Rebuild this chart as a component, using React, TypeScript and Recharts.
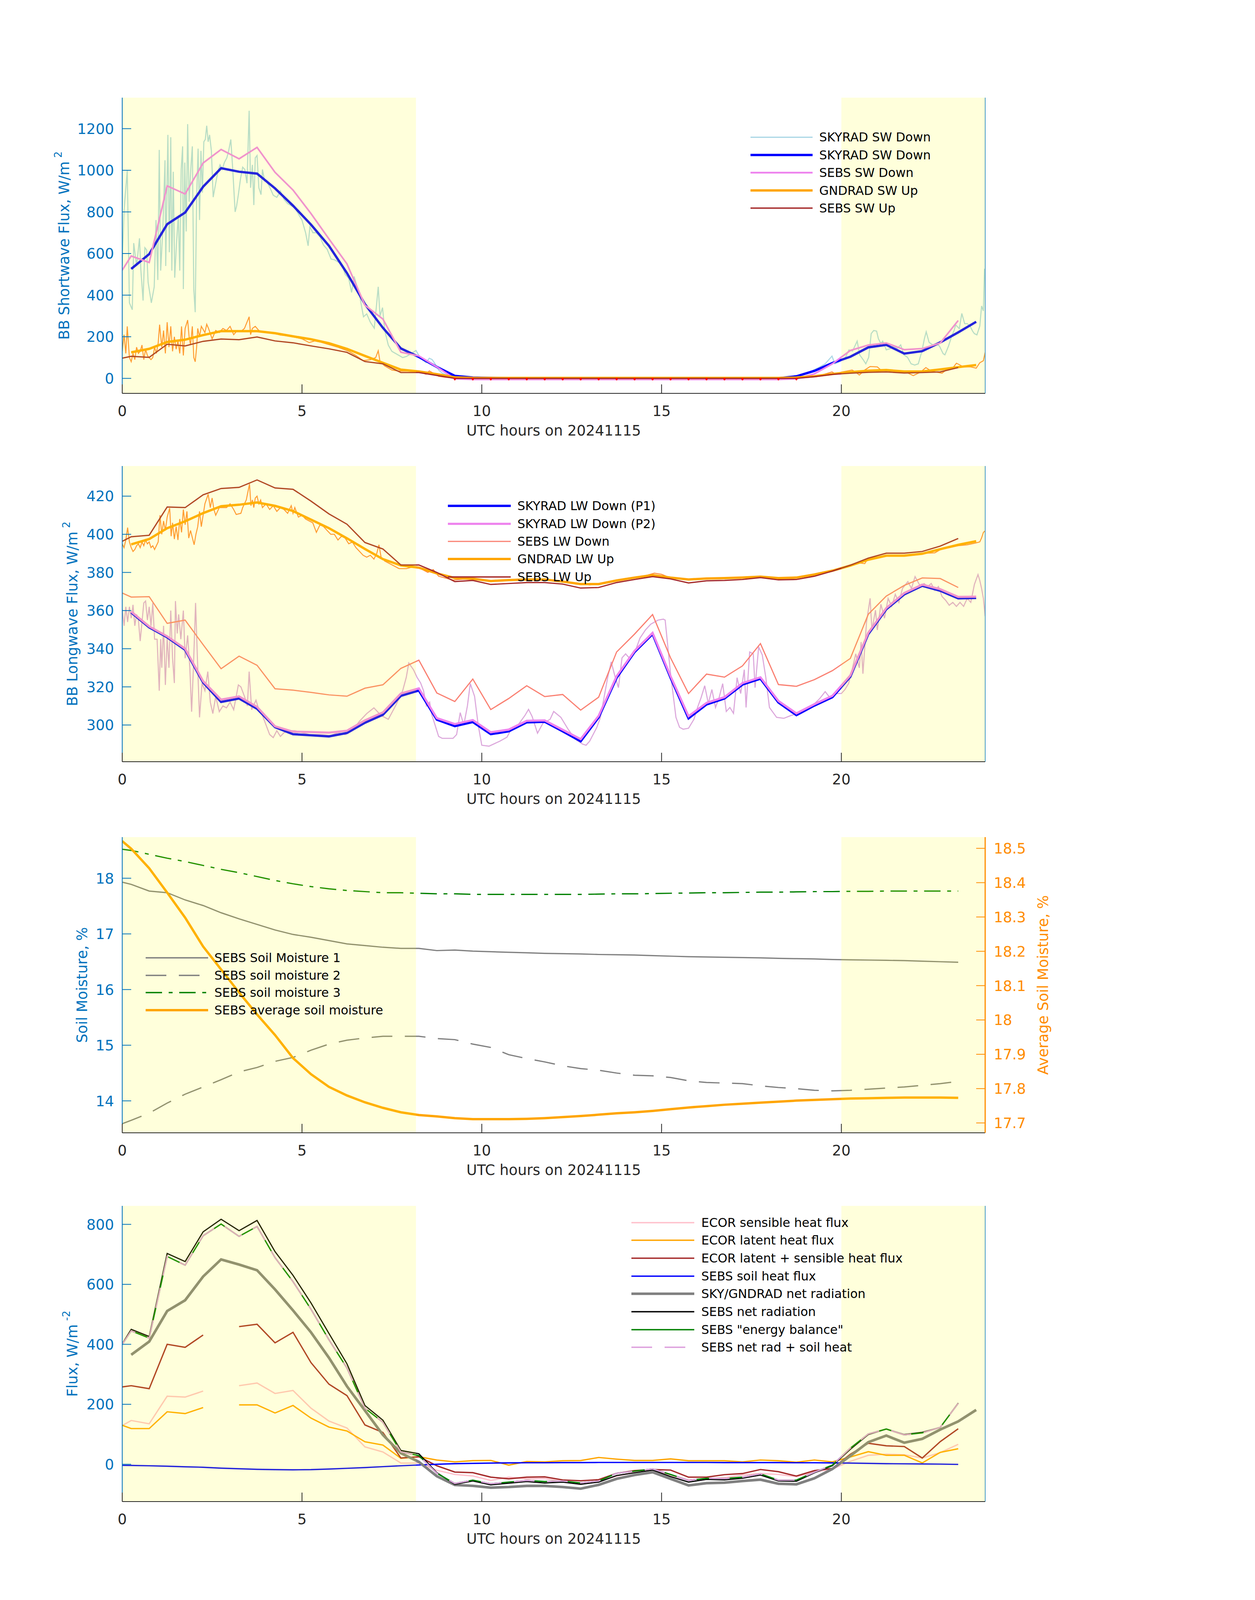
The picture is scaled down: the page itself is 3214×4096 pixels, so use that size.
import React from "react";
import { LineChart, Line, XAxis, YAxis, ReferenceArea, ReferenceLine } from "recharts";

const FONT = "'DejaVu Sans', sans-serif";
const W = 3214;
const PLOT_L = 313;
const PLOT_R = 2523;
const PLOT_H = 757;
const TOPS = [250, 1193, 2143, 3087];

// time grids, UTC hours
const HOURS = [0.25, 0.75, 1.25, 1.75, 2.25, 2.75, 3.25, 3.75, 4.25, 4.75, 5.25, 5.75, 6.25, 6.75, 7.25, 7.75, 8.25, 8.75, 9.25, 9.75, 10.25, 10.75, 11.25, 11.75, 12.25, 12.75, 13.25, 13.75, 14.25, 14.75, 15.25, 15.75, 16.25, 16.75, 17.25, 17.75, 18.25, 18.75, 19.25, 19.75, 20.25, 20.75, 21.25, 21.75, 22.25, 22.75, 23.25, 23.75];
const SEBS_HOURS = [0, 0.25, 0.75, 1.25, 1.75, 2.25, 2.75, 3.25, 3.75, 4.25, 4.75, 5.25, 5.75, 6.25, 6.75, 7.25, 7.75, 8.25, 8.75, 9.25, 9.75, 10.25, 10.75, 11.25, 11.75, 12.25, 12.75, 13.25, 13.75, 14.25, 14.75, 15.25, 15.75, 16.25, 16.75, 17.25, 17.75, 18.25, 18.75, 19.25, 19.75, 20.25, 20.75, 21.25, 21.75, 22.25, 22.75, 23.25];
const NIGHT_HOURS = [9.25, 9.75, 10.25, 10.75, 11.25, 11.75, 12.25, 12.75, 13.25, 13.75, 14.25, 14.75, 15.25, 15.75, 16.25, 16.75, 17.25, 17.75, 18.25, 18.75];

const X_TICKS = [0, 5, 10, 15, 20];
const X_LABEL = "UTC hours on 20241115";

// ---- panel 1: shortwave ----
const skySwDown = [526, 597, 741, 797, 921, 1010, 993, 984, 913, 830, 739, 637, 506, 357, 243, 144, 103, 55, 12, 4, 2, 1, 1, 1, 1, 1, 1, 1, 1, 1, 1, 1, 1, 1, 1, 1, 1, 10, 36, 74, 104, 149, 161, 119, 131, 173, 221, 272];
const sebsSwDown = [520, 588, 557, 925, 886, 1035, 1100, 1055, 1110, 990, 905, 792, 670, 550, 352, 285, 126, 108, 55, -2, -5, -5, -5, -5, -5, -5, -5, -5, -5, -5, -5, -5, -5, -5, -5, -5, -5, -5, -2, 22, 70, 134, 160, 170, 138, 143, 170, 278];
const gndSwUp = [125, 142, 175, 186, 208, 227, 227, 227, 217, 202, 188, 169, 142, 108, 75, 42, 33, 20, 5, 2, 2, 2, 2, 2, 2, 2, 2, 2, 2, 2, 2, 2, 2, 2, 2, 2, 2, 4, 10, 21, 30, 37, 40, 33, 33, 43, 54, 64];
const sebsSwUp = [97, 106, 101, 164, 156, 178, 189, 186, 199, 180, 171, 156, 142, 125, 81, 70, 28, 28, 14, 0, 0, 0, 0, 0, 0, 0, 0, 0, 0, 0, 0, 0, 0, 0, 0, 0, 0, 0, 0, 8, 19, 25, 29, 31, 26, 28, 31, 52];
const sebsSwUpNightMarks = [-3, -3, -3, -3, -3, -3, -3, -3, -3, -3, -3, -3, -3, -3, -3, -3, -3, -3, -3, -3];

const rawSwDownHours = [0, 0.05, 0.14, 0.2, 0.28, 0.32, 0.4, 0.48, 0.52, 0.58, 0.63, 0.68, 0.72, 0.81, 0.89, 0.94, 0.99, 1.03, 1.07, 1.13, 1.19, 1.21, 1.27, 1.31, 1.35, 1.38, 1.42, 1.46, 1.51, 1.56, 1.6, 1.64, 1.68, 1.7, 1.74, 1.78, 1.82, 1.86, 1.91, 1.95, 1.99, 2.03, 2.07, 2.11, 2.15, 2.19, 2.23, 2.27, 2.31, 2.35, 2.39, 2.43, 2.48, 2.53, 2.6, 2.66, 2.72, 2.78, 2.84, 2.91, 2.96, 3.02, 3.07, 3.14, 3.18, 3.23, 3.29, 3.35, 3.41, 3.47, 3.53, 3.57, 3.62, 3.66, 3.7, 3.75, 3.8, 3.86, 3.9, 3.96,
  4.0, 4.1, 4.2, 4.3, 4.4, 4.5, 4.6, 4.7, 4.8, 4.9, 5.0, 5.1, 5.17, 5.22, 5.3, 5.4, 5.5, 5.6, 5.7, 5.81, 5.9, 6.0, 6.1, 6.2, 6.3, 6.38, 6.45, 6.5, 6.6, 6.71, 6.8, 6.9, 7.01, 7.06, 7.12, 7.17, 7.24, 7.3, 7.4, 7.5, 7.6, 7.7, 7.8, 7.9, 8.0, 8.17, 8.25, 8.35, 8.45, 8.54, 8.62, 8.7, 8.8, 8.9, 9.0, 9.2, 9.4,
  12.0, 16.0, 18.6, 19.0, 19.2, 19.37, 19.55, 19.74, 19.82, 19.92, 20.0, 20.1, 20.21, 20.31, 20.44, 20.51, 20.61, 20.68, 20.76, 20.83, 20.9, 20.98, 21.03, 21.1, 21.15, 21.25, 21.35, 21.45, 21.55, 21.65, 21.74, 21.84, 21.94, 22.04, 22.14, 22.24, 22.31, 22.36, 22.44, 22.54, 22.64, 22.73, 22.83, 22.88, 22.98, 23.08, 23.13, 23.18, 23.28, 23.35, 23.43, 23.5, 23.58, 23.65, 23.7, 23.77, 23.85, 23.9, 23.95, 23.98, 24.0];
const rawSwDownVals = [540, 805, 1000, 363, 330, 650, 540, 673, 517, 374, 628, 617, 462, 363, 440, 761, 473, 1098, 518, 717, 1048, 540, 1170, 606, 1159, 518, 993, 484, 650, 783, 518, 1004, 1115, 429, 1037, 706, 1222, 849, 1015, 1115, 429, 318, 871, 1104, 761, 1093, 893, 1137, 1148, 1214, 1137, 1170, 1093, 871, 938, 993, 1026, 1004, 1037, 1060, 1093, 1148, 1015, 800, 827, 883, 960, 1015, 1004, 938, 1286, 916, 1026, 833, 1060, 1071, 916, 883, 1004, 949,
  950, 920, 880, 870, 900, 860, 840, 830, 820, 790, 760, 700, 637, 730, 700, 700, 680, 640, 620, 573, 570, 560, 550, 500, 480, 413, 490, 460, 400, 296, 310, 270, 241, 330, 440, 300, 340, 230, 160, 130, 120, 110, 100, 105, 115, 134, 110, 90, 75, 97, 90, 70, 40, 25, 18, 5, 0,
  0, 0, 2, 20, 38, 52, 70, 107, 70, 77, 86, 95, 137, 131, 179, 113, 89, 70, 101, 215, 230, 227, 191, 167, 179, 137, 143, 155, 143, 161, 113, 101, 70, 64, 70, 131, 191, 224, 173, 161, 167, 155, 119, 113, 155, 209, 227, 257, 239, 312, 263, 263, 251, 227, 215, 209, 251, 348, 324, 523, 520];

const rawSwUpHours = [0, 0.05, 0.1, 0.14, 0.2, 0.25, 0.3, 0.35, 0.4, 0.45, 0.5, 0.55, 0.6, 0.65, 0.7, 0.8, 0.85, 0.9, 0.95, 1.0, 1.04, 1.1, 1.15, 1.2, 1.25, 1.3, 1.35, 1.4, 1.45, 1.5, 1.55, 1.6, 1.65, 1.7, 1.75, 1.82, 1.86, 1.9, 1.95, 1.99, 2.03, 2.07, 2.1, 2.15, 2.2, 2.3, 2.35, 2.4, 2.5, 2.6, 2.7, 2.8, 2.9, 3.0, 3.1, 3.2, 3.3, 3.4, 3.53, 3.57, 3.62, 3.7, 3.8, 3.9, 4.0, 4.2, 4.4, 4.6, 4.8, 5.0, 5.2, 5.35, 5.5, 5.7, 6.0, 6.15, 6.3, 6.5, 6.7, 6.9, 7.05, 7.12, 7.17, 7.3, 7.5, 7.7, 8.0, 8.3, 8.45, 8.54, 8.65, 8.8, 9.0, 9.3, 12.0, 16.0, 18.8, 19.3, 19.74, 19.85, 20.0, 20.3, 20.4, 20.5, 20.65, 20.8, 21.0, 21.1, 21.3, 21.6, 21.8, 22.0, 22.2, 22.35, 22.5, 22.8, 22.95, 23.1, 23.2, 23.4, 23.6, 23.75, 23.85, 23.95, 24.0];
const rawSwUpVals = [130, 210, 120, 250, 100, 80, 120, 90, 150, 120, 130, 160, 90, 140, 110, 90, 100, 150, 120, 170, 258, 150, 230, 120, 270, 150, 250, 130, 200, 140, 180, 120, 250, 110, 240, 280, 200, 160, 250, 100, 80, 150, 240, 200, 250, 220, 260, 240, 190, 230, 220, 240, 230, 250, 210, 230, 225, 240, 296, 210, 240, 250, 230, 225, 220, 218, 208, 205, 198, 190, 172, 180, 175, 165, 150, 140, 130, 110, 85, 90, 100, 133, 80, 60, 40, 35, 35, 30, 20, 36, 25, 10, 5, 2, 2, 2, 3, 8, 31, 20, 30, 40, 30, 16, 40, 57, 55, 40, 40, 35, 30, 13, 30, 52, 35, 25, 45, 50, 73, 55, 55, 49, 75, 85, 125];

// ---- panel 2: longwave ----
const skyLwP1 = [359.0, 351.2, 346.0, 339.4, 322.3, 312.1, 313.9, 308.5, 298.9, 295.2, 294.6, 294.0, 295.8, 301.2, 305.4, 315.3, 318.1, 302.8, 299.4, 301.6, 295.2, 296.7, 301.4, 301.7, 296.7, 291.5, 304.0, 324.8, 338.3, 347.7, 324.8, 303.5, 310.8, 313.9, 321.2, 324.3, 311.8, 305.2, 310.2, 314.6, 325.3, 347.7, 360.7, 368.5, 373.0, 370.4, 366.4, 366.6];
const skyLwP2 = [359.5, 351.7, 346.5, 340.0, 323.0, 313.3, 315.0, 309.5, 299.3, 296.5, 296.3, 296.0, 297.0, 302.4, 306.6, 316.5, 319.2, 303.6, 300.5, 302.6, 296.2, 297.6, 302.2, 302.4, 297.5, 292.6, 304.8, 325.6, 338.9, 348.3, 325.6, 304.6, 311.6, 314.6, 322.0, 325.0, 312.6, 306.1, 310.9, 315.3, 326.0, 348.4, 361.3, 369.2, 373.6, 371.2, 367.2, 367.3];
const sebsLwDown = [369.2, 367.1, 367.3, 353.3, 355.0, 342.1, 329.5, 336.1, 331.3, 319.0, 318.3, 317.1, 315.8, 315.1, 319.3, 321.1, 329.7, 334.0, 316.8, 312.3, 324.1, 308.1, 313.9, 320.6, 314.9, 316.0, 307.8, 314.6, 338.3, 347.7, 357.9, 335.2, 316.5, 326.7, 325.1, 331.0, 342.7, 321.2, 320.3, 323.8, 328.5, 334.9, 358.1, 367.6, 373.2, 377.1, 376.8, 372.1];
const gndLwUp = [394.7, 397.5, 403.2, 406.8, 411.1, 414.7, 415.5, 416.7, 414.9, 412.2, 407.7, 403.2, 397.9, 392.3, 387.0, 383.7, 382.5, 379.5, 377.1, 376.7, 375.5, 376.0, 376.3, 376.3, 375.2, 373.9, 373.9, 375.8, 377.3, 378.6, 377.3, 376.3, 376.8, 377.0, 377.3, 377.8, 377.0, 377.3, 378.9, 380.9, 383.6, 386.7, 388.8, 388.8, 389.8, 392.2, 394.5, 396.4];
const sebsLwUp = [396.3, 398.7, 399.5, 414.3, 414.0, 420.7, 424.0, 424.6, 428.5, 424.3, 423.6, 417.4, 410.7, 405.3, 395.7, 392.3, 383.9, 383.9, 380.0, 375.2, 375.8, 373.7, 374.2, 374.7, 374.7, 373.9, 371.8, 372.1, 374.7, 376.3, 377.8, 376.6, 374.5, 375.6, 375.8, 376.3, 377.3, 376.1, 376.3, 378.0, 380.7, 383.8, 387.5, 390.1, 390.1, 391.0, 393.8, 397.8];

const rawLwDownHours = [0, 0.05, 0.1, 0.15, 0.2, 0.25, 0.3, 0.35, 0.4, 0.45, 0.5, 0.6, 0.65, 0.7, 0.75, 0.8, 0.85, 0.9, 0.97, 1.03, 1.07, 1.1, 1.15, 1.2, 1.25, 1.3, 1.35, 1.4, 1.45, 1.48, 1.53, 1.57, 1.63, 1.7, 1.75, 1.82, 1.88, 1.93, 1.98, 2.04, 2.1, 2.15, 2.22, 2.3, 2.38, 2.45, 2.52, 2.6, 2.7, 2.8, 2.9, 3.0, 3.1, 3.23, 3.3, 3.4, 3.48, 3.53, 3.6, 3.72, 3.8, 3.9, 4.0, 4.1, 4.2, 4.3, 4.4, 4.5, 4.6, 4.8, 5.0, 5.2, 5.5, 5.8, 6.0, 6.2, 6.4, 6.6, 6.8, 7.0, 7.2, 7.4, 7.6, 7.8, 7.9, 7.97, 8.1, 8.2, 8.3, 8.38, 8.46, 8.55, 8.6, 8.7, 8.8, 8.9, 9.0, 9.2, 9.3, 9.4, 9.5, 9.6, 9.68, 9.8, 9.9, 10.0, 10.2, 10.5, 10.7, 10.85, 11.0, 11.2, 11.3, 11.4, 11.55, 11.7, 11.9, 12.0, 12.2, 12.4, 12.6, 12.8, 12.9, 13.0, 13.2, 13.3, 13.5, 13.6, 13.7, 13.8, 13.9, 14.0, 14.1, 14.3, 14.4, 14.55, 14.7, 14.9, 15.05, 15.1, 15.25, 15.4, 15.5, 15.6, 15.75, 15.9, 16.0, 16.1, 16.2, 16.3, 16.4, 16.5, 16.6, 16.7, 16.8, 16.9, 17.0, 17.1, 17.2, 17.3, 17.35, 17.45, 17.55, 17.6, 17.7, 17.8, 17.9, 18.0, 18.2, 18.4, 18.6, 18.8, 19.0, 19.2, 19.4, 19.55, 19.7, 19.85, 20.0, 20.1, 20.2, 20.3, 20.4, 20.5, 20.55, 20.6, 20.7, 20.8, 20.85, 20.95, 21.0, 21.1, 21.2, 21.3, 21.4, 21.5, 21.6, 21.7, 21.85, 21.95, 22.05, 22.2, 22.3, 22.4, 22.5, 22.6, 22.7, 22.8, 22.9, 23.0, 23.1, 23.2, 23.3, 23.4, 23.5, 23.6, 23.7, 23.8, 23.85, 23.9, 23.95, 24.0];
const rawLwDownVals = [360.8, 352, 362, 354, 362, 356, 363, 352, 358, 355, 344, 364, 365, 355, 362, 352, 364, 345, 345, 318, 345, 330, 352, 321, 346, 330, 360, 335, 322, 365, 348, 358, 345, 360, 335, 347, 330, 307, 330, 364, 330, 304, 322, 318, 328, 312, 306, 315, 307, 310, 309, 312, 308, 321, 320, 315, 310, 328, 308, 313, 308, 305, 300, 295, 293.4, 297, 294, 296, 297, 297, 296, 295, 295, 294.5, 296, 295, 297, 302, 306, 309, 305, 303, 310, 318, 325, 332.5, 329, 325, 322, 318, 310, 312, 306, 300, 294, 293, 293, 293, 295, 306.5, 300, 310, 321.7, 315, 300, 289.4, 288.9, 291.5, 293.6, 298.8, 299.8, 305.0, 308.2, 304.5, 295.7, 300.9, 303.0, 307.1, 304.0, 297.8, 292.6, 290.0, 289.4, 291.5, 298.8, 304.0, 324.8, 333.1, 325.8, 319.6, 335.2, 337.3, 335.2, 340.4, 345.6, 349.8, 352.9, 355.0, 355.5, 355.0, 326.9, 304.0, 298.8, 297.8, 298.3, 303.0, 309.2, 314.4, 320.6, 311.3, 318.6, 309.2, 314.4, 321.7, 307.1, 309.2, 306.1, 324.8, 316.5, 329.0, 309.2, 338.3, 337.3, 319.6, 340.9, 336.8, 324.8, 309.2, 304.0, 303.5, 305.0, 306.1, 308.2, 310.2, 313.9, 317.5, 313.9, 316.5, 316.5, 318.6, 321.7, 329.0, 337.3, 330.0, 343.5, 326.9, 353.9, 366.4, 349.8, 360.2, 349.8, 363.3, 356.0, 366.4, 362.2, 368.5, 364.3, 371.6, 375.2, 371.6, 377.8, 372.6, 374.2, 372.6, 374.2, 370.6, 372.6, 367.4, 365.4, 362.8, 364.3, 362.2, 364.3, 362.2, 366.4, 364.3, 373.7, 378.9, 375.8, 371.6, 366.4, 357.0];

const rawLwUpHours = [0, 0.05, 0.1, 0.15, 0.2, 0.25, 0.3, 0.35, 0.4, 0.45, 0.5, 0.55, 0.6, 0.65, 0.7, 0.75, 0.8, 0.85, 0.9, 1.0, 1.05, 1.1, 1.15, 1.2, 1.25, 1.32, 1.36, 1.4, 1.45, 1.5, 1.55, 1.6, 1.65, 1.7, 1.75, 1.8, 1.85, 1.9, 2.0, 2.05, 2.1, 2.15, 2.2, 2.3, 2.39, 2.45, 2.5, 2.55, 2.6, 2.65, 2.7, 2.8, 2.9, 3.0, 3.1, 3.17, 3.3, 3.35, 3.45, 3.54, 3.58, 3.62, 3.66, 3.7, 3.75, 3.8, 3.85, 3.9, 4.0, 4.1, 4.2, 4.3, 4.4, 4.5, 4.6, 4.7, 4.75, 4.8, 4.9, 5.0, 5.1, 5.2, 5.3, 5.4, 5.5, 5.6, 5.7, 5.8, 5.9, 6.0, 6.1, 6.2, 6.3, 6.4, 6.5, 6.6, 6.7, 6.8, 6.9, 7.0, 7.08, 7.14, 7.2, 7.3, 7.5, 7.7, 7.9, 8.1, 8.3, 8.5, 8.65, 8.8, 9.0, 9.2, 9.5, 10.0, 10.5, 11.0, 11.5, 12.0, 12.5, 13.0, 13.5, 14.0, 14.5, 14.8, 15.0, 15.2, 15.5, 16.0, 16.5, 17.0, 17.5, 18.0, 18.5, 19.0, 19.5, 20.0, 20.5, 20.65, 20.75, 21.0, 21.25, 21.5, 22.0, 22.3, 22.6, 22.85, 23.0, 23.25, 23.5, 23.75, 23.85, 23.9, 23.95, 24.0];
const rawLwUpVals = [395, 393, 397, 403.5, 396, 393, 391, 392, 394, 395, 393, 396, 394, 397, 395, 396, 393, 394, 392, 396, 410, 400, 407, 402, 409, 413.7, 399, 406, 397.5, 404, 397, 408, 401, 413, 405, 412, 398, 402, 394.5, 400, 404, 412, 404, 416, 421, 414, 419, 413, 410, 412, 414, 414, 414, 416, 413, 410.4, 411, 414, 418, 426.4, 415, 418, 414, 419, 420, 416, 418, 414, 416, 413, 415, 412, 414, 413, 411, 415, 411, 414, 409, 410, 408, 407, 406, 401, 405, 404, 402, 400, 400, 397, 399, 398, 395, 396, 393, 391, 389, 388, 389, 387, 390, 394.5, 388, 386, 384, 382, 382, 383, 382, 380, 381.5, 378, 377, 376, 376.5, 376, 375.5, 376.5, 376, 376, 374.5, 373.5, 374.5, 376.5, 378, 379.6, 379, 377.5, 376.5, 376.5, 377, 377, 377.5, 377.5, 377, 378, 379.5, 382, 385, 384.6, 387.5, 388, 388.5, 389, 389, 390, 390.3, 393, 393, 394, 394.5, 395.5, 396, 398.1, 401, 401.8];

// ---- panel 3: soil moisture ----
const soilMoisture1 = [17.93, 17.89, 17.77, 17.74, 17.61, 17.51, 17.38, 17.27, 17.17, 17.07, 16.99, 16.94, 16.88, 16.82, 16.79, 16.76, 16.74, 16.74, 16.70, 16.71, 16.69, 16.68, 16.67, 16.66, 16.65, 16.645, 16.64, 16.63, 16.625, 16.62, 16.61, 16.60, 16.59, 16.585, 16.58, 16.575, 16.57, 16.56, 16.555, 16.55, 16.54, 16.535, 16.53, 16.525, 16.52, 16.51, 16.50, 16.49];
const soilMoisture2 = [13.59, 13.65, 13.78, 13.96, 14.12, 14.25, 14.38, 14.52, 14.60, 14.71, 14.78, 14.91, 15.02, 15.09, 15.13, 15.16, 15.16, 15.16, 15.12, 15.10, 15.02, 14.96, 14.83, 14.76, 14.70, 14.63, 14.58, 14.55, 14.50, 14.46, 14.45, 14.42, 14.36, 14.33, 14.32, 14.31, 14.27, 14.24, 14.22, 14.19, 14.18, 14.19, 14.21, 14.23, 14.25, 14.28, 14.31, 14.35];
const soilMoisture3 = [18.52, 18.50, 18.43, 18.36, 18.30, 18.23, 18.16, 18.10, 18.03, 17.96, 17.90, 17.85, 17.81, 17.78, 17.76, 17.74, 17.74, 17.73, 17.72, 17.72, 17.71, 17.71, 17.71, 17.71, 17.71, 17.71, 17.71, 17.715, 17.72, 17.72, 17.725, 17.73, 17.735, 17.74, 17.74, 17.745, 17.75, 17.75, 17.755, 17.76, 17.76, 17.765, 17.765, 17.77, 17.77, 17.77, 17.77, 17.77];
const soilMoistureAvg = [18.521, 18.499, 18.442, 18.371, 18.298, 18.214, 18.147, 18.080, 18.016, 17.956, 17.889, 17.842, 17.805, 17.780, 17.760, 17.744, 17.731, 17.723, 17.719, 17.714, 17.711, 17.711, 17.711, 17.712, 17.714, 17.717, 17.720, 17.724, 17.728, 17.731, 17.735, 17.740, 17.745, 17.749, 17.753, 17.756, 17.759, 17.762, 17.765, 17.767, 17.769, 17.771, 17.772, 17.773, 17.774, 17.774, 17.774, 17.773];

// ---- panel 4: surface energy fluxes ----
const ecorSensible = [129, 146, 135, 227, 224, 244, null, 262, 271, 236, 246, 187, 144, 121, 58, 41, 4, 4, -20, -34, -39, -54, -43, -48.5, -47.8, -57.7, -66.8, -55.8, -39.4, -26.6, -19.4, -37.6, -52.2, -48.5, -44.9, -35.8, -31.0, -34, -41.2, -26.6, -15.7, 9.8, 29.9, 33.5, 31.7, 20.8, 39.0, 66.4];
const ecorLatent = [130, 119, 119, 175, 169, 189, null, 198, 198, 171, 196, 154, 124, 111, 75, 64, 20, 25, 14, 8, 12, 12.8, -2.9, 9.1, 8.0, 11.7, 12.4, 22.6, 17.1, 12.8, 12.8, 17.9, 11.7, 11.7, 11.7, 8.0, 14.2, 11.7, 6.9, 14.2, 8.0, 24.4, 41.9, 29.9, 29.9, 4.4, 39.7, 51.8];
const ecorLatSens = [258, 262, 252, 400, 390, 431, null, 459, 467, 405, 440, 339, 267, 229, 131, 106, 21, 25, -5, -26, -28, -43, -48.5, -43, -42, -52.2, -55.1, -51.4, -30.3, -21.2, -17.5, -19.4, -43, -43, -34.7, -31.0, -17.5, -24.8, -39.4, -21.2, -13.9, 33.5, 70.0, 61.6, 59.1, 20.8, 75.5, 118.5];
const sebsSoilHeat = [-3.5, -4, -5, -6.5, -8.5, -10, -13, -15, -17, -18, -18.5, -18, -16, -13.5, -11, -8, -5, -2.5, 0, 2, 3, 4, 4.5, 5, 5, 5.5, 5.5, 6, 6, 6, 6, 6, 6, 6, 5.5, 5.5, 5.5, 5.5, 5, 5, 4.5, 4, 3, 2, 1.5, 1, 0.5, -0.5];
const skyGndNetRad = [365, 409, 511, 547, 626, 683, 666, 647, 583, 513, 440, 355, 260, 179, 98, 37, 8, -40, -69, -72, -78, -75.9, -72.2, -72.2, -75.9, -81.4, -68.6, -48.5, -35.8, -26.6, -48.5, -70.4, -63.1, -61.3, -55.8, -51.4, -64.9, -66.8, -46.7, -15.7, 28.1, 73.7, 95.6, 71.8, 84.6, 115.6, 143.0, 181.3];
const sebsNetRad = [401.5, 450, 426, 703, 676, 775, 817, 779, 813, 709, 630, 538, 436, 335, 196, 147, 46, 35, -28, -67, -55.8, -68.6, -63.1, -57.7, -62.4, -59.5, -66.8, -59.5, -37.6, -28.5, -19.4, -41.2, -59.5, -50.4, -52.2, -46.7, -35.8, -55.8, -56.6, -28.5, -4.8, 50.0, 99.2, 117.4, 99.2, 106.5, 122.9, 203.9];
const sebsEnergyBalance = [400, 445, 421, 693, 664, 762, 801, 760, 793, 689, 609, 517, 415, 321, 187, 140, 41, 29, -30, -64, -53, -65, -59.5, -54, -57.7, -55.8, -62.4, -55.8, -30.3, -23, -15.7, -34, -54, -46.7, -47.8, -43, -32.1, -52.9, -52.9, -26.6, -2.9, 53.6, 101, 117.4, 98.1, 104.7, 122.9, 203.2];
const sebsNetRadPlusSoil = sebsEnergyBalance;

type Pt = { x: number; y: number | null };
const pts = (xs: number[], ys: (number | null)[]): Pt[] => xs.map((x, i) => ({ x, y: ys[i] }));

const line = (key: string, data: Pt[], color: string, width: number, extra: any = {}) => (
  <Line
    key={key}
    data={data}
    dataKey="y"
    type="linear"
    stroke={color}
    strokeWidth={width}
    dot={false}
    activeDot={false}
    isAnimationActive={false}
    {...extra}
  />
);

// red markers drawn as small dots
const RedDot = (p: any) =>
  p.cx == null || p.cy == null ? null : <ellipse cx={p.cx} cy={p.cy} rx={2.6} ry={3.4} fill="#ff0000" />;

// ticks drawn inward, MATLAB style
const TICK_LEN = 23;
const xTick = (p: any) => (
  <g>
    <line x1={p.x} x2={p.x} y1={p.y - 31} y2={p.y - 31 - TICK_LEN} stroke="#262626" strokeWidth={2} />
    <text x={p.x} y={p.y} dy="0.72em" textAnchor="middle" fontSize={37} fontFamily={FONT} fill="#262626">
      {p.payload.value}
    </text>
  </g>
);
const leftTick = (color: string) => (p: any) => (
  <g>
    <line x1={p.x + 21} x2={p.x + 21 + TICK_LEN} y1={p.y} y2={p.y} stroke={color} strokeWidth={2} />
    <text x={p.x} y={p.y} dy="0.36em" textAnchor="end" fontSize={37} fontFamily={FONT} fill={color}>
      {p.payload.value}
    </text>
  </g>
);
const rightTick = (color: string) => (p: any) => (
  <g>
    <line x1={p.x - 22} x2={p.x - 22 - TICK_LEN} y1={p.y} y2={p.y} stroke={color} strokeWidth={2} />
    <text x={p.x} y={p.y} dy="0.36em" textAnchor="start" fontSize={37} fontFamily={FONT} fill={color}>
      {p.payload.value}
    </text>
  </g>
);

const BLUE = "#0072bd";
const DARK_ORANGE = "#ff8c00";

function Panel({ top, yDomain, yTicks, right, children }: any) {
  const rightW = right ? 200 : 0;
  return (
    <div style={{ position: "absolute", left: 0, top: top - 30 }}>
      <LineChart
        width={W}
        height={30 + PLOT_H + 130 + 10}
        margin={{ top: 30, right: W - PLOT_R - rightW, bottom: 10, left: PLOT_L - 200 }}
      >
        <XAxis
          type="number"
          dataKey="x"
          domain={[0, 24]}
          ticks={X_TICKS}
          interval={0}
          allowDataOverflow
          height={130}
          tickSize={0}
          tickMargin={31}
          tickLine={false}
          tick={xTick}
          axisLine={{ stroke: "#262626", strokeWidth: 2 }}
        />
        <YAxis
          type="number"
          domain={yDomain}
          ticks={yTicks}
          interval={0}
          allowDataOverflow
          width={200}
          tickSize={0}
          tickMargin={21}
          tickLine={false}
          tick={leftTick(BLUE)}
          axisLine={{ stroke: BLUE, strokeWidth: 2 }}
        />
        {right && (
          <YAxis
            yAxisId="right"
            orientation="right"
            type="number"
            domain={right.domain}
            ticks={right.ticks}
            interval={0}
            allowDataOverflow
            width={200}
            tickSize={0}
            tickMargin={22}
            tickLine={false}
            tick={rightTick(DARK_ORANGE)}
            axisLine={{ stroke: DARK_ORANGE, strokeWidth: 3 }}
          />
        )}
        {children}
        <ReferenceArea x1={0} x2={8.17} fill="#ffff00" fillOpacity={0.14} stroke="none" zIndex={450} />
        <ReferenceArea x1={20} x2={24} fill="#ffff00" fillOpacity={0.14} stroke="none" zIndex={450} />
        {!right && <ReferenceLine x={24} stroke="#3a93d0" strokeWidth={2} />}
      </LineChart>
    </div>
  );
}

type LegendItem = { label: string; color: string; width: number; dash?: string };

function LegendBlock({ x1, x2, tx, rows, items }: { x1: number; x2: number; tx: number; rows: number[]; items: LegendItem[] }) {
  return (
    <g>
      {items.map((it, i) => (
        <g key={i}>
          <line x1={x1} x2={x2} y1={rows[i]} y2={rows[i]} stroke={it.color} strokeWidth={it.width} strokeDasharray={it.dash} />
          <text x={tx} y={rows[i]} dominantBaseline="central" fontSize={31.5} fill="#000">
            {it.label}
          </text>
        </g>
      ))}
    </g>
  );
}

const legend1: LegendItem[] = [
  { label: "SKYRAD SW Down", color: "#add8e6", width: 3.4 },
  { label: "SKYRAD SW Down", color: "#0000ff", width: 6 },
  { label: "SEBS SW Down", color: "#ee82ee", width: 4.5 },
  { label: "GNDRAD SW Up", color: "#ffa500", width: 6 },
  { label: "SEBS SW Up", color: "#a52a2a", width: 3.4 },
];
const legend2: LegendItem[] = [
  { label: "SKYRAD LW Down (P1)", color: "#0000ff", width: 6 },
  { label: "SKYRAD LW Down (P2)", color: "#ee82ee", width: 5.5 },
  { label: "SEBS LW Down", color: "#fa8072", width: 3 },
  { label: "GNDRAD LW Up", color: "#ffa500", width: 6 },
  { label: "SEBS LW Up", color: "#a52a2a", width: 3.4 },
];
const legend3: LegendItem[] = [
  { label: "SEBS Soil Moisture 1", color: "#808080", width: 3.4 },
  { label: "SEBS soil moisture 2", color: "#808080", width: 3.4, dash: "53 32" },
  { label: "SEBS soil moisture 3", color: "#008000", width: 3.4, dash: "42 17 10 17" },
  { label: "SEBS average soil moisture", color: "#ffa500", width: 6 },
];
const legend4: LegendItem[] = [
  { label: "ECOR sensible heat flux", color: "#ffc0cb", width: 3.4 },
  { label: "ECOR latent heat flux", color: "#ffa500", width: 3.4 },
  { label: "ECOR latent + sensible heat flux", color: "#a52a2a", width: 3.4 },
  { label: "SEBS soil heat flux", color: "#0000ff", width: 3.4 },
  { label: "SKY/GNDRAD net radiation", color: "#808080", width: 6.7 },
  { label: "SEBS net radiation", color: "#000000", width: 3.4 },
  { label: 'SEBS "energy balance"', color: "#008000", width: 3.4 },
  { label: "SEBS net rad + soil heat", color: "#dda0dd", width: 3.4, dash: "53 32" },
];

function YLabel({ x, y, color, children }: any) {
  return (
    <text x={x} y={y} transform={`rotate(-90 ${x} ${y})`} textAnchor="middle" dominantBaseline="central" fontSize={37} fill={color}>
      {children}
    </text>
  );
}

export default function App() {
  const mid = (i: number) => TOPS[i] + PLOT_H / 2;
  const xLabelY = (i: number) => TOPS[i] + PLOT_H + 95;
  const xMid = (PLOT_L + PLOT_R) / 2;
  return (
    <div style={{ position: "absolute", left: 0, top: 0, width: W, height: 4096, background: "#fff", fontFamily: FONT }}>
      {/* shortwave */}
      <Panel top={TOPS[0]} yDomain={[-72, 1349]} yTicks={[0, 200, 400, 600, 800, 1000, 1200]}>
        {line("rawSwDown", pts(rawSwDownHours, rawSwDownVals), "#add8e6", 2.8)}
        {line("skySwDown", pts(HOURS, skySwDown), "#0000ff", 6)}
        {line("sebsSwDown", pts(SEBS_HOURS, sebsSwDown), "#ee82ee", 4.2)}
        {line("rawSwUp", pts(rawSwUpHours, rawSwUpVals), "#ff8c3a", 2.5)}
        {line("gndSwUp", pts(HOURS, gndSwUp), "#ffa500", 6)}
        {line("sebsSwUp", pts(SEBS_HOURS, sebsSwUp), "#a52a2a", 3.2)}
        {line("swMarks", pts(NIGHT_HOURS, sebsSwUpNightMarks), "transparent", 0, { dot: RedDot })}
      </Panel>

      {/* longwave */}
      <Panel top={TOPS[1]} yDomain={[280.75, 435.8]} yTicks={[300, 320, 340, 360, 380, 400, 420]}>
        {line("rawLwDown", pts(rawLwDownHours, rawLwDownVals), "#dca8dc", 2.8)}
        {line("rawLwUp", pts(rawLwUpHours, rawLwUpVals), "#ff8c3a", 2.5)}
        {line("skyLwP1", pts(HOURS, skyLwP1), "#0000ff", 6)}
        {line("skyLwP2", pts(HOURS, skyLwP2), "#ee82ee", 5.5)}
        {line("sebsLwDown", pts(SEBS_HOURS, sebsLwDown), "#fa8072", 3)}
        {line("gndLwUp", pts(HOURS, gndLwUp), "#ffa500", 6)}
        {line("sebsLwUp", pts(SEBS_HOURS, sebsLwUp), "#a52a2a", 3.2)}
      </Panel>

      {/* soil moisture */}
      <Panel
        top={TOPS[2]}
        yDomain={[13.426, 18.739]}
        yTicks={[14, 15, 16, 17, 18]}
        right={{ domain: [17.6712, 18.5327], ticks: [17.7, 17.8, 17.9, 18, 18.1, 18.2, 18.3, 18.4, 18.5] }}
      >
        {line("sm1", pts(SEBS_HOURS, soilMoisture1), "#808080", 3.2)}
        {line("sm2", pts(SEBS_HOURS, soilMoisture2), "#808080", 3.2, { strokeDasharray: "53 32" })}
        {line("sm3", pts(SEBS_HOURS, soilMoisture3), "#008000", 3.2, { strokeDasharray: "42 17 10 17" })}
        {line("smAvg", pts(SEBS_HOURS, soilMoistureAvg), "#ffa500", 6, { yAxisId: "right" })}
      </Panel>

      {/* energy fluxes */}
      <Panel top={TOPS[3]} yDomain={[-124.4, 861.7]} yTicks={[0, 200, 400, 600, 800]}>
        {line("ecorSens", pts(SEBS_HOURS, ecorSensible), "#ffc0cb", 3.4)}
        {line("ecorLat", pts(SEBS_HOURS, ecorLatent), "#ffa500", 3.4)}
        {line("ecorLatSens", pts(SEBS_HOURS, ecorLatSens), "#a52a2a", 3.4)}
        {line("soilHeat", pts(SEBS_HOURS, sebsSoilHeat), "#0000ff", 3.4)}
        {line("skyGndNet", pts(HOURS, skyGndNetRad), "#808080", 6.7)}
        {line("sebsNet", pts(SEBS_HOURS, sebsNetRad), "#000000", 3)}
        {line("sebsEb", pts(SEBS_HOURS, sebsEnergyBalance), "#008000", 3.4)}
        {line("sebsNetSoil", pts(SEBS_HOURS, sebsNetRadPlusSoil), "#dda0dd", 3.4, { strokeDasharray: "53 32" })}
      </Panel>

      {/* legends and axis titles */}
      <svg width={W} height={4096} style={{ position: "absolute", left: 0, top: 0, pointerEvents: "none" }} fontFamily={FONT}>
        <LegendBlock x1={1922} x2={2081} tx={2098} rows={[351.4, 396.7, 442.1, 487.5, 532.8]} items={legend1} />
        <LegendBlock x1={1147} x2={1308} tx={1325} rows={[1295, 1341, 1386, 1431, 1477]} items={legend2} />
        <LegendBlock x1={373} x2={533} tx={549} rows={[2452, 2497, 2541, 2586]} items={legend3} />
        <LegendBlock x1={1617} x2={1778} tx={1796} rows={[3130, 3175, 3221, 3267, 3312, 3358, 3404, 3449]} items={legend4} />

        <YLabel x={164} y={mid(0)} color={BLUE}>
          BB Shortwave Flux, W/m<tspan dx={9} dy={-15} fontSize={26}>2</tspan>
        </YLabel>
        <YLabel x={185} y={mid(1)} color={BLUE}>
          BB Longwave Flux, W/m<tspan dx={9} dy={-15} fontSize={26}>2</tspan>
        </YLabel>
        <YLabel x={210} y={mid(2)} color={BLUE}>Soil Moisture, %</YLabel>
        <YLabel x={2671} y={mid(2)} color={DARK_ORANGE}>Average Soil Moisture, %</YLabel>
        <YLabel x={185} y={mid(3)} color={BLUE}>
          Flux, W/m<tspan dx={9} dy={-15} fontSize={26}>-2</tspan>
        </YLabel>

        {[0, 1, 2, 3].map((i) => (
          <text key={i} x={xMid} y={xLabelY(i)} textAnchor="middle" dominantBaseline="central" fontSize={37} fill="#262626">
            {X_LABEL}
          </text>
        ))}
      </svg>
    </div>
  );
}
